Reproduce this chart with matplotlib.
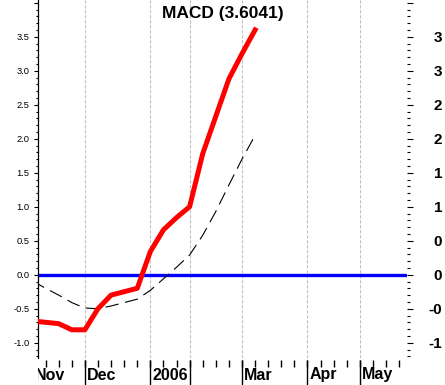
import matplotlib
matplotlib.use('Agg')
import matplotlib.pyplot as plt
import matplotlib.transforms as mtransforms
from matplotlib.ticker import FixedLocator, MultipleLocator

plt.rcParams['font.family'] = ['Liberation Sans', 'DejaVu Sans']

# weekly MACD values (week 0 = first week of Nov)
weeks = list(range(18))
macd = [-0.68, -0.70, -0.72, -0.81, -0.81, -0.50, -0.30, -0.25, -0.20,
        0.34, 0.66, 0.84, 1.00, 1.78, 2.33, 2.88, 3.25, 3.60]
signal = [-0.09, -0.20, -0.30, -0.41, -0.49, -0.50, -0.46, -0.41, -0.36,
          -0.23, -0.06, 0.11, 0.29, 0.58, 0.93, 1.32, 1.70, 2.05]

# month starts (in weeks) and their labels, Feb has no label
month_weeks = [0, 4, 9, 12, 16, 21, 25]
month_labels = ['Nov', 'Dec', '2006', '', 'Mar', 'Apr', 'May']
all_weeks = list(range(29))

y_ticks = [-1.0, -0.5, 0.0, 0.5, 1.0, 1.5, 2.0, 2.5, 3.0, 3.5, 4.0]
y_labels = ['-1.0', '-0.5', '0.0', '0.5', '1.0', '1.5', '2.0', '2.5', '3.0', '3.5', '']
# right side labels, only the part that shows inside the picture
right_labels = ['-1', '-0', '0', '0', '1', '1', '2', '2', '3', '3', '']
title = 'MACD (3.6041)'

W, H = 445, 385
fig = plt.figure(figsize=(W / 100, H / 100), dpi=100)

# main plot area
ax = fig.add_axes([38 / W, 27 / H, 369 / W, 358 / H])
ax.set_xlim(0.42, 28.6)
ax.set_ylim(-1.225, 4.04)

for m in month_weeks: # dashed month grid
    ax.axvline(m, color='#c0c0c0', lw=0.8, ls=(0, (3, 1.5)), zorder=1)
ax.axhline(0, color='#0000ff', lw=2.4, zorder=2) # zero line
ax.plot(weeks, signal, color='black', lw=0.8, ls=(0, (12, 6)), zorder=3)
ax.plot(weeks, macd, color='#ff0000', lw=3.6, zorder=4)

for side in ['top', 'right', 'bottom']:
    ax.spines[side].set_visible(False)
ax.spines['left'].set_linewidth(0.9)
ax.set_xticks([])
ax.yaxis.set_major_locator(FixedLocator(y_ticks))
ax.set_yticklabels(y_labels, fontsize=6.7)
ax.yaxis.set_minor_locator(MultipleLocator(0.1))
ax.tick_params(axis='y', which='major', length=3.2, width=0.8, pad=2.9)
ax.tick_params(axis='y', which='minor', length=1.5, width=0.8)

# right axis with big bold labels
ax2 = ax.twinx()
ax2.set_ylim(ax.get_ylim())
for side in ['top', 'right', 'bottom', 'left']:
    ax2.spines[side].set_visible(False)
ax2.yaxis.set_major_locator(FixedLocator(y_ticks))
ax2.set_yticklabels(right_labels, fontsize=11, fontweight='bold')
ax2.yaxis.set_minor_locator(MultipleLocator(0.1))
ax2.tick_params(axis='y', which='major', length=4.3, width=0.8, pad=21)
ax2.tick_params(axis='y', which='minor', length=2, width=0.8)
for lbl in ax2.get_yticklabels():
    lbl.set_horizontalalignment('right')

# date strip under the plot
sx = fig.add_axes([38 / W, 0, 369 / W, 27 / H])
sx.set_xlim(ax.get_xlim())
sx.set_ylim(0, 27)
sx.axis('off')
sx.vlines(all_weeks, 18, 25, color='black', lw=1)
sx.vlines(month_weeks, 0, 25, color='black', lw=1)
shift = mtransforms.offset_copy(sx.transData, fig=fig, x=2, y=0, units='dots')
for m, lab in zip(month_weeks, month_labels):
    sx.text(m, 10, lab, transform=shift, ha='left', va='center',
            fontsize=11.5, fontweight='bold', clip_on=True)

fig.text(223 / W, 1 - 13.5 / H, title, ha='center', va='center',
         fontsize=12.5, fontweight='bold')

fig.savefig('out.png', dpi=100)
